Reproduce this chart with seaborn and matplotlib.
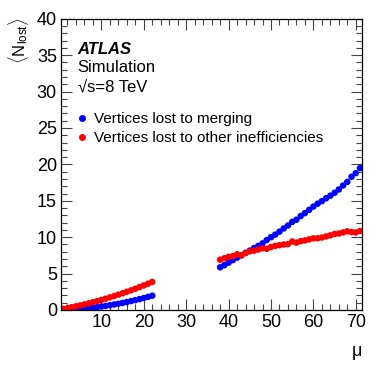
import numpy as np
import pandas as pd
import seaborn as sns
import matplotlib.pyplot as plt
from matplotlib.ticker import MultipleLocator
from matplotlib.lines import Line2D

# pile-up mu values (two simulated ranges)
mu_low = list(range(1, 23))
mu_high = list(range(38, 72))

merging_low = [0.02, 0.04, 0.07, 0.10, 0.15, 0.20, 0.26, 0.32, 0.39, 0.47, 0.56,
               0.65, 0.75, 0.85, 0.97, 1.09, 1.22, 1.35, 1.49, 1.64, 1.80, 1.96]
other_low = [0.15, 0.26, 0.38, 0.50, 0.63, 0.77, 0.91, 1.06, 1.22, 1.38, 1.55,
             1.73, 1.91, 2.10, 2.29, 2.50, 2.70, 2.92, 3.14, 3.37, 3.61, 3.85]

merging_high = [5.86, 6.15, 6.50, 6.85, 7.19, 7.50, 7.85, 8.15, 8.50, 8.80, 9.15,
                9.60, 10.0, 10.35, 10.76, 11.2, 11.6, 12.1, 12.4, 12.9, 13.3, 13.75,
                14.2, 14.6, 14.95, 15.35, 15.7, 16.1, 16.55, 17.1, 17.6, 18.3, 18.8, 19.5]
other_high = [6.90, 7.10, 7.30, 7.40, 7.65, 7.50, 7.80, 8.05, 8.15, 8.30, 8.47,
              8.40, 8.65, 8.80, 8.90, 9.00, 9.05, 9.40, 9.25, 9.45, 9.55, 9.70,
              9.84, 9.85, 9.95, 10.1, 10.25, 10.44, 10.5, 10.65, 10.8, 10.7, 10.65, 10.85]

lbl_merge = 'Vertices lost to merging'
lbl_other = 'Vertices lost to other inefficiencies'

df = pd.DataFrame({
    'mu': mu_low + mu_high + mu_low + mu_high,
    'nlost': merging_low + merging_high + other_low + other_high,
    'kind': [lbl_merge] * (len(mu_low) + len(mu_high)) + [lbl_other] * (len(mu_low) + len(mu_high)),
})

sns.set_style('ticks')
plt.rcParams['font.family'] = ['Liberation Sans', 'DejaVu Sans']
plt.rcParams['mathtext.fontset'] = 'custom'
plt.rcParams['mathtext.rm'] = 'Liberation Sans'
plt.rcParams['mathtext.it'] = 'Liberation Sans:italic'
plt.rcParams['text.color'] = 'black'
plt.rcParams['axes.labelcolor'] = 'black'

fig = plt.figure(figsize=(3.82, 3.69), dpi=100, facecolor='white')
ax = fig.add_axes([0.160, 0.160, 0.788, 0.789])

sns.scatterplot(data=df, x='mu', y='nlost', hue='kind',
                palette={lbl_merge: '#0000ff', lbl_other: '#ff0000'},
                s=22, linewidth=0, edgecolor='none', legend=False, ax=ax)

ax.set_xlim(0.5, 71.5)
ax.set_ylim(0, 40)
ax.xaxis.set_major_locator(MultipleLocator(10))
ax.xaxis.set_minor_locator(MultipleLocator(2))
ax.yaxis.set_major_locator(MultipleLocator(5))
ax.yaxis.set_minor_locator(MultipleLocator(1))
ax.tick_params(which='both', direction='in', top=True, right=True, width=0.8,
               color='#444444', labelcolor='black')
ax.tick_params(which='major', length=8, labelsize=13, pad=3)
ax.tick_params(which='minor', length=4)
for sp in ax.spines.values():
    sp.set_linewidth(0.9)
    sp.set_color('black')
ax.set_xticks([10, 20, 30, 40, 50, 60, 70])
ax.set_xlabel('')
ax.set_ylabel(r'$\langle\mathrm{N}_{\mathrm{lost}}\rangle$', fontsize=12, loc='top')
ax.yaxis.set_label_coords(-0.10, 1.005)
fig.text(0.935, 0.047, '\u03bc', fontsize=13, ha='center', va='center')

ax.text(0.055, 0.896, 'ATLAS', transform=ax.transAxes, fontsize=12,
        fontweight='bold', fontstyle='italic', va='center')
ax.text(0.055, 0.832, 'Simulation', transform=ax.transAxes, fontsize=12, va='center')
ax.text(0.055, 0.767, '\u221as=8 TeV', transform=ax.transAxes, fontsize=12, va='center')

handles = [Line2D([], [], ls='none', marker='o', ms=4, color='#0000ff'),
           Line2D([], [], ls='none', marker='o', ms=4, color='#ff0000')]
ax.legend(handles, [lbl_merge, lbl_other], loc='upper left', bbox_to_anchor=(0.03, 0.70),
          frameon=False, fontsize=11, handlelength=0.8, handletextpad=0.35,
          labelspacing=0.3, borderaxespad=0)

plt.savefig('out.png', dpi=100, facecolor=fig.get_facecolor())
